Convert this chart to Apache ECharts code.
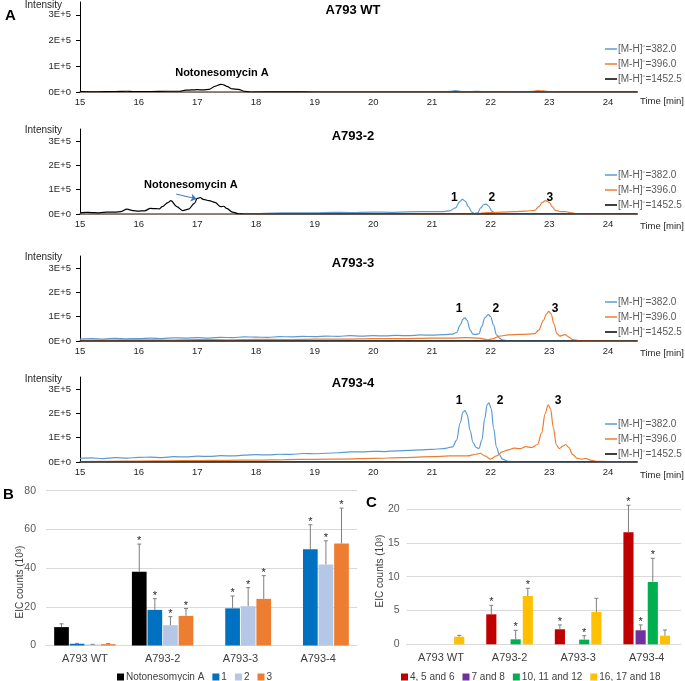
<!DOCTYPE html>
<html><head><meta charset="utf-8">
<script src="https://cdn.jsdelivr.net/npm/echarts@6/dist/echarts.min.js"></script>
<style>html,body{margin:0;padding:0;background:#fff}#c{width:685px;height:681px}</style>
</head><body><div id="c"></div>
<script>
// ---------- Panel A: chromatogram traces (time [min], intensity in 1E+5) ----------
const ionNames = ['[M-H]\u207B=382.0', '[M-H]\u207B=396.0', '[M-H]\u207B=1452.5'];
const panelTitles = ['A793 WT', 'A793-2', 'A793-3', 'A793-4'];
const xTickValues = [15, 16, 17, 18, 19, 20, 21, 22, 23, 24];
const yTickValues = [0, 1, 2, 3];

const wt382 = [[15,0],[16,0],[17,0],[18,0],[19,0],[20,0],[20.8,0],[21.2,0.01],[21.3,0.03],[21.4,0.05],[21.5,0.02],[21.6,0.01],[21.75,0.03],[21.85,0.02],[22,0],[23,0],[24,0],[24.5,0]];
const wt396 = [[15,0],[16,0],[17,0],[18,0],[19,0],[20,0],[21,0],[22,0],[22.6,0.01],[22.7,0.03],[22.8,0.05],[22.9,0.04],[23.0,0.01],[23.2,0],[24,0],[24.5,0]];
const wt1452 = [[15,0.02],[15.3,0.01],[15.6,0.02],[15.8,0.03],[15.9,0.02],[16.2,0.02],[16.5,0.03],[16.7,0.03],[16.8,0.07],[16.9,0.08],[17.0,0.09],[17.1,0.08],[17.2,0.1],[17.3,0.22],[17.4,0.3],[17.45,0.28],[17.5,0.22],[17.6,0.12],[17.7,0.1],[17.8,0.03],[17.9,0],[18.5,0.01],[19,0],[20,0],[21,0],[22,0],[23,0],[24,0],[24.5,0]];

const m2_382 = [[15,0],[16,0],[17,0],[17.8,0],[18,0.02],[18.3,0.04],[18.6,0.05],[19,0.05],[19.3,0.07],[19.6,0.06],[20,0.08],[20.3,0.07],[20.6,0.09],[21,0.1],[21.2,0.1],[21.3,0.13],[21.4,0.25],[21.47,0.5],[21.52,0.6],[21.57,0.52],[21.62,0.3],[21.68,0.08],[21.72,0.02],[21.78,0.05],[21.83,0.25],[21.88,0.38],[21.92,0.41],[21.97,0.32],[22.02,0.12],[22.08,0.02],[22.2,0],[23,0],[24,0],[24.5,0]];
const m2_396 = [[15,0],[16,0],[17,0],[18,0],[19,0],[20,0],[21,0],[21.7,0],[21.8,0.03],[21.9,0.05],[22.0,0.06],[22.2,0.08],[22.4,0.1],[22.6,0.12],[22.75,0.15],[22.82,0.3],[22.88,0.48],[22.94,0.55],[23.0,0.48],[23.05,0.3],[23.1,0.15],[23.2,0.1],[23.28,0.1],[23.35,0.06],[23.45,0.02],[23.6,0],[24,0],[24.5,0]];
const m2_1452 = [[15,0.05],[15.1,0.07],[15.2,0.06],[15.3,0.05],[15.4,0.07],[15.5,0.08],[15.6,0.08],[15.7,0.1],[15.8,0.2],[15.9,0.14],[16.0,0.12],[16.1,0.13],[16.2,0.23],[16.3,0.22],[16.35,0.21],[16.4,0.3],[16.5,0.47],[16.55,0.55],[16.65,0.3],[16.75,0.14],[16.85,0.2],[16.95,0.44],[17.0,0.64],[17.05,0.68],[17.1,0.6],[17.2,0.55],[17.3,0.48],[17.4,0.3],[17.45,0.32],[17.5,0.23],[17.6,0.08],[17.7,0.01],[17.8,0],[18.5,0],[19,0],[20,0],[21,0],[22,0],[23,0],[24,0],[24.5,0]];

const m3_382 = [[15,0.08],[15.2,0.1],[15.4,0.08],[15.6,0.11],[15.8,0.09],[16,0.1],[16.2,0.12],[16.4,0.1],[16.6,0.13],[16.8,0.12],[17,0.14],[17.2,0.12],[17.4,0.15],[17.6,0.14],[17.8,0.17],[18,0.16],[18.2,0.15],[18.4,0.18],[18.6,0.17],[18.8,0.19],[19,0.18],[19.2,0.2],[19.4,0.19],[19.6,0.22],[19.8,0.2],[20,0.22],[20.2,0.21],[20.4,0.23],[20.6,0.22],[20.8,0.25],[21,0.24],[21.2,0.26],[21.35,0.28],[21.42,0.35],[21.48,0.65],[21.53,0.9],[21.56,0.95],[21.6,0.85],[21.65,0.45],[21.7,0.28],[21.75,0.27],[21.8,0.3],[21.85,0.6],[21.9,0.95],[21.96,1.09],[22.0,1.0],[22.05,0.65],[22.1,0.25],[22.15,0.12],[22.2,0.05],[22.3,0.01],[22.5,0],[23,0],[24,0],[24.5,0]];
const m3_396 = [[15,0.03],[15.5,0.04],[16,0.05],[16.5,0.04],[17,0.06],[17.5,0.05],[18,0.07],[18.5,0.06],[19,0.08],[19.5,0.08],[20,0.1],[20.5,0.1],[21,0.12],[21.3,0.12],[21.6,0.14],[21.8,0.12],[21.95,0.05],[22.05,0.1],[22.15,0.2],[22.3,0.25],[22.5,0.27],[22.65,0.28],[22.75,0.3],[22.82,0.45],[22.9,0.85],[22.95,1.1],[22.99,1.22],[23.03,1.12],[23.08,0.7],[23.13,0.3],[23.18,0.2],[23.23,0.24],[23.27,0.26],[23.32,0.18],[23.4,0.06],[23.5,0.02],[23.7,0.01],[24,0],[24.5,0]];
const m3_1452 = [[15,0],[16,0],[17,0],[18,0],[19,0],[20,0],[21,0],[22,0],[23,0],[24,0],[24.5,0]];

const m4_382 = [[15,0.15],[15.2,0.17],[15.4,0.14],[15.6,0.18],[15.8,0.16],[16,0.19],[16.2,0.2],[16.4,0.18],[16.6,0.22],[16.8,0.21],[17,0.24],[17.2,0.23],[17.4,0.26],[17.6,0.25],[17.8,0.28],[18,0.3],[18.2,0.29],[18.4,0.32],[18.6,0.31],[18.8,0.35],[19,0.34],[19.2,0.36],[19.4,0.38],[19.6,0.42],[19.8,0.42],[20,0.44],[20.2,0.43],[20.4,0.46],[20.6,0.48],[20.8,0.5],[21,0.52],[21.2,0.55],[21.35,0.62],[21.42,0.9],[21.48,1.6],[21.53,2.05],[21.56,2.12],[21.6,1.95],[21.65,1.3],[21.7,0.8],[21.75,0.6],[21.8,0.56],[21.85,0.9],[21.9,1.8],[21.94,2.35],[21.97,2.44],[22.01,2.2],[22.05,1.4],[22.1,0.6],[22.15,0.3],[22.2,0.12],[22.3,0.03],[22.5,0],[23,0],[24,0],[24.5,0]];
const m4_396 = [[15,0.02],[15.5,0.03],[16,0.04],[16.5,0.05],[17,0.06],[17.5,0.07],[18,0.08],[18.5,0.1],[19,0.11],[19.5,0.12],[20,0.15],[20.5,0.18],[21,0.22],[21.3,0.25],[21.6,0.25],[21.75,0.32],[21.82,0.36],[21.9,0.25],[22.0,0.12],[22.1,0.25],[22.2,0.42],[22.3,0.5],[22.4,0.57],[22.5,0.55],[22.6,0.63],[22.7,0.6],[22.8,0.72],[22.87,1.2],[22.93,2.0],[22.98,2.35],[23.02,2.2],[23.07,1.4],[23.12,0.7],[23.17,0.55],[23.23,0.65],[23.28,0.72],[23.33,0.6],[23.4,0.3],[23.48,0.15],[23.55,0.12],[23.62,0.15],[23.7,0.08],[23.8,0.03],[24,0.02],[24.5,0.01]];
const m4_1452 = [[15,0],[16,0],[17,0],[18,0],[19,0],[20,0],[21,0],[22,0],[23,0],[24,0],[24.5,0]];

// annotation anchors in data units [time, intensity, text]
const wtNotes = [[17.42, 0.74, 'Notonesomycin A']];
const m2Notes = [[16.89, 1.19, 'Notonesomycin A'], [21.38, 0.66, '1'], [22.02, 0.66, '2'], [23.01, 0.66, '3']];
const m3Notes = [[21.46, 1.35, '1'], [22.09, 1.35, '2'], [23.1, 1.35, '3']];
const m4Notes = [[21.46, 2.53, '1'], [22.16, 2.53, '2'], [23.15, 2.53, '3']];
const m2Arrow = [[16.64, 0.82], [16.99, 0.62]];

// ---------- Panel B ----------
const barCategories = ['A793 WT', 'A793-2', 'A793-3', 'A793-4'];
const bNames = ['Notonesomycin A', '1', '2', '3'];
const bNoto = [9.5, 38.1, 0, 0];
const bNotoErr = [1.7, 14.3, 0, 0];
const bNotoStar = [0, 1, 0, 0];
const b1 = [0.9, 18.4, 19.2, 49.8];
const b1Err = [0.2, 5.8, 6.4, 12.6];
const b1Star = [0, 1, 1, 1];
const b2 = [0.5, 10.5, 20.3, 41.9];
const b2Err = [0.1, 4.4, 9.6, 12.2];
const b2Star = [0, 1, 1, 1];
const b3 = [0.7, 15.3, 24.1, 52.7];
const b3Err = [0.3, 3.8, 12.0, 18.3];
const b3Star = [0, 1, 1, 1];

// ---------- Panel C ----------
const cNames = ['4, 5 and 6', '7 and 8', '10, 11 and 12', '16, 17 and 18'];
const c456 = [0, 4.43, 2.22, 16.55];
const c456Err = [0, 1.33, 0.64, 4.0];
const c456Star = [0, 1, 1, 1];
const c78 = [0, 0, 0, 2.07];
const c78Err = [0, 0, 0, 0.79];
const c78Star = [0, 0, 0, 1];
const c101112 = [0, 0.74, 0.69, 9.21];
const c101112Err = [0, 1.33, 0.59, 3.5];
const c101112Star = [0, 1, 1, 1];
const c161718 = [1.13, 7.14, 4.78, 1.28];
const c161718Err = [0.2, 1.14, 2.02, 0.84];
const c161718Star = [0, 1, 0, 0];

// ---------- layout / styles ----------
const FONT = 'Liberation Sans, Arial, sans-serif';
const ionColors = ['#5B9BD5', '#ED7D31', '#000000'];
const bColors = ['#000000', '#0070C0', '#B4C7E7', '#ED7D31'];
const cColors = ['#C00000', '#7030A0', '#00B050', '#FFC000'];
const chromGrids = [{top: 2, h: 90}, {top: 129, h: 85}, {top: 256, h: 85}, {top: 377, h: 85}];
const legendTops = [38, 164, 291, 413];
const traces = [[wt382, wt396, wt1452], [m2_382, m2_396, m2_1452], [m3_382, m3_396, m3_1452], [m4_382, m4_396, m4_1452]];
const notes = [wtNotes, m2Notes, m3Notes, m4Notes];

const grid = [], xAxis = [], yAxis = [], series = [], legend = [];
chromGrids.forEach((g, i) => {
  grid.push({left: 80, top: g.top, width: 557.3, height: g.h, containLabel: false});
  xAxis.push({type: 'value', gridIndex: i, min: 15, max: 24.5,
    axisLine: {show: true, onZero: false, lineStyle: {color: '#404040', width: 1.5}},
    axisTick: {show: false}, splitLine: {show: false},
    axisLabel: {customValues: xTickValues, margin: 5, fontSize: 9.5, color: '#262626', fontFamily: FONT}});
  yAxis.push({type: 'value', gridIndex: i, min: 0, max: 3.5,
    axisLine: {show: true, lineStyle: {color: '#000', width: 1}},
    axisTick: {show: true, customValues: yTickValues, length: 4, lineStyle: {color: '#000'}},
    splitLine: {show: false},
    axisLabel: {customValues: yTickValues, margin: 9, fontSize: 9.5, color: '#262626', fontFamily: FONT,
      formatter: v => v === 0 ? '0E+0' : v + 'E+5'}});
  traces[i].forEach((d, k) => {
    const s = {type: 'line', name: ionNames[k], xAxisIndex: i, yAxisIndex: i, data: d,
      symbol: 'none', smooth: 0.35, smoothMonotone: 'x',
      lineStyle: {color: ionColors[k], width: 1.2}, itemStyle: {color: ionColors[k]}, z: 3 + k};
    if (k === 2) {
      s.markPoint = {silent: true, symbol: 'circle', symbolSize: 1, itemStyle: {color: 'rgba(0,0,0,0)'},
        data: notes[i].map(n => ({coord: [n[0], n[1]], value: n[2],
          label: {show: true, position: 'inside', formatter: n[2], color: '#000', fontWeight: 'bold',
            fontSize: n[2].length > 2 ? 11 : 12, fontFamily: FONT}}))};
      if (i === 1) {
        s.markLine = {silent: true, symbol: ['none', 'arrow'], symbolSize: 6,
          lineStyle: {color: '#4472C4', width: 1, type: 'solid'}, label: {show: false},
          data: [[{coord: m2Arrow[0]}, {coord: m2Arrow[1]}]]};
      }
    }
    series.push(s);
  });
  legend.push({data: ionNames, left: 600, top: legendTops[i], orient: 'vertical', itemGap: 3,
    icon: 'rect', itemWidth: 12, itemHeight: 1.5, selectedMode: false,
    textStyle: {fontSize: 10, color: '#595959', fontFamily: FONT, lineHeight: 12, padding: [0, 0, 0, -4]}});
});

// bar grids
const barSpecs = [
  {left: 46, top: 490.7, width: 311, height: 154.8, max: 80, interval: 20, names: bNames, colors: bColors,
   vals: [bNoto, b1, b2, b3], errs: [bNotoErr, b1Err, b2Err, b3Err], stars: [bNotoStar, b1Star, b2Star, b3Star],
   catGap: 0.21, barGap: 0.06, labelMargin: 10, legendLeft: 112},
  {left: 406.7, top: 509, width: 274.3, height: 135.3, max: 20, interval: 5, names: cNames, colors: cColors,
   vals: [c456, c78, c101112, c161718], errs: [c456Err, c78Err, c101112Err, c161718Err], stars: [c456Star, c78Star, c101112Star, c161718Star],
   catGap: 0.32, barGap: 0.2, labelMargin: 7, legendLeft: 396}
];
barSpecs.forEach((b, j) => {
  const gi = 4 + j;
  grid.push({left: b.left, top: b.top, width: b.width, height: b.height, containLabel: false});
  xAxis.push({type: 'category', gridIndex: gi, data: barCategories,
    axisLine: {show: true, lineStyle: {color: '#D9D9D9', width: 1}}, axisTick: {show: false},
    axisLabel: {margin: 8, fontSize: 11, color: '#404040', fontFamily: FONT}});
  yAxis.push({type: 'value', gridIndex: gi, min: 0, max: b.max, interval: b.interval,
    axisLine: {show: false}, axisTick: {show: false},
    splitLine: {show: true, lineStyle: {color: '#D9D9D9', width: 1}},
    axisLabel: {margin: b.labelMargin, fontSize: 10.5, color: '#595959', fontFamily: FONT}});
  const n = b.names.length;
  b.names.forEach((nm, k) => {
    series.push({type: 'bar', name: nm, xAxisIndex: gi, yAxisIndex: gi, data: b.vals[k],
      barGap: (b.barGap * 100) + '%', barCategoryGap: (b.catGap * 100) + '%',
      itemStyle: {color: b.colors[k]}, z: 2});
    const errData = b.vals[k].map((v, c) => [c, v, b.errs[k][c], b.stars[k][c]]);
    series.push({type: 'custom', name: 'err' + j + '_' + k, xAxisIndex: gi, yAxisIndex: gi, data: errData,
      encode: {x: 0, y: 1}, clip: false, silent: true, z: 4,
      renderItem: (params, api) => {
        const cat = api.value(0), val = api.value(1), err = api.value(2), star = api.value(3);
        if (!(val > 0)) return null;
        const band = api.size([1, 0])[0];
        const bw = band * (1 - b.catGap) / (n + (n - 1) * b.barGap);
        const total = n * bw + (n - 1) * bw * b.barGap;
        const cx = api.coord([cat, 0])[0] - total / 2 + k * bw * (1 + b.barGap) + bw / 2;
        const y0 = api.coord([cat, val])[1];
        const y1 = api.coord([cat, val + err])[1];
        const st = {stroke: '#7F7F7F', lineWidth: 1};
        const ch = [
          {type: 'line', shape: {x1: cx, y1: y0, x2: cx, y2: y1}, style: st},
          {type: 'line', shape: {x1: cx - 2, y1: y1, x2: cx + 2, y2: y1}, style: st}
        ];
        if (star) ch.push({type: 'text', style: {text: '*', x: cx, y: y1 - 3, align: 'center', verticalAlign: 'middle',
          fontSize: 11, fill: '#262626', fontFamily: FONT}});
        return {type: 'group', children: ch};
      }});
  });
  legend.push({data: b.names, left: b.legendLeft, top: 667, orient: 'horizontal', itemGap: 8,
    icon: 'rect', itemWidth: 7, itemHeight: 7, selectedMode: false,
    textStyle: {fontSize: 10, color: '#404040', fontFamily: FONT, padding: [0, 0, 0, -3]}});
});

// text annotations
const txt = (text, x, y, o) => Object.assign({type: 'text', x: x, y: y, silent: true,
  style: Object.assign({text: text, fontFamily: FONT, fill: '#000', verticalAlign: 'middle'}, o || {})});
const graphic = [
  txt('A', 5, 16, {fontSize: 15, fontWeight: 'bold'}),
  txt('B', 3, 495, {fontSize: 15, fontWeight: 'bold'}),
  txt('C', 366, 503, {fontSize: 15, fontWeight: 'bold'}),
];
const titleY = [10, 136, 263, 383];
const intY = [5, 130, 257, 379];
const timeY = [101, 226, 353, 475];
panelTitles.forEach((t, i) => {
  graphic.push(txt(t, 353, titleY[i], {fontSize: 13, fontWeight: 'bold', align: 'center'}));
  graphic.push(txt('Intensity', 62, intY[i], {fontSize: 10, fill: '#262626', align: 'right'}));
  graphic.push(txt('Time [min]', 640, timeY[i], {fontSize: 9.5, fill: '#262626', align: 'left'}));
});
graphic.push({type: 'text', x: 20, y: 582, rotation: Math.PI / 2, silent: true,
  style: {text: 'EIC counts (10\u00B3)', fontFamily: FONT, fontSize: 10, fill: '#404040', align: 'center', verticalAlign: 'middle'}});
graphic.push({type: 'text', x: 380, y: 571, rotation: Math.PI / 2, silent: true,
  style: {text: 'EIC counts (10\u00B3)', fontFamily: FONT, fontSize: 10, fill: '#404040', align: 'center', verticalAlign: 'middle'}});

const chart = echarts.init(document.getElementById('c'), null, {renderer: 'canvas'});
chart.setOption({animation: false, backgroundColor: '#fff', textStyle: {fontFamily: FONT},
  grid, xAxis, yAxis, series, legend, graphic});
</script></body></html>
